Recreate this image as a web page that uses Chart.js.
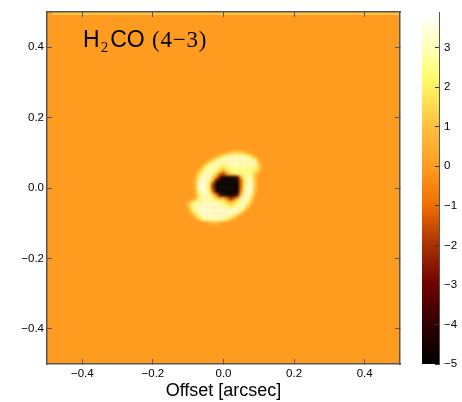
<!DOCTYPE html>
<html lang="en">
<head>
    <meta charset="UTF-8">
    <title>H2CO (4-3)</title>
    <script src="https://cdn.jsdelivr.net/npm/chart.js"></script>
    <style>
        body {
            margin: 0;
            background: #fff;
            width: 462px;
            height: 402px;
            overflow: hidden;
            position: relative;
        }
        canvas {
            position: absolute;
            top: 0;
        }
        #etiqueta {
            position: absolute;
            left: 83px;
            top: 26px;
            font: 23px "Liberation Sans", Arial, sans-serif;
            color: #000;
            white-space: nowrap;
            line-height: 26px;
        }
        #etiqueta sub {
            font: 15px "Liberation Serif", serif;
            vertical-align: -5px;
            line-height: 0;
            margin: 0 2px 0 1px;
        }
        #etiqueta span {
            font: 23px "Liberation Serif", serif;
            margin-left: 1px;
            letter-spacing: 0.8px;
        }
    </style>
</head>
<body>
    <canvas id="mapa" width="462" height="402" style="left:0"></canvas>
    <canvas id="barra" width="62" height="402" style="left:400px"></canvas>
    <div id="etiqueta">H<sub>2</sub>CO <span>(4−3)</span></div>

    <script>
        const xTicks = [-0.4, -0.2, 0, 0.2, 0.4];
        const yTicks = [-0.4, -0.2, 0, 0.2, 0.4];
        const tickLabels = ["−0.4", "−0.2", "0.0", "0.2", "0.4"];
        const barTicks = [-5, -4, -3, -2, -1, 0, 1, 2, 3];
        const barTickLabels = ["−5", "−4", "−3", "−2", "−1", "0", "1", "2", "3"];
        const barRange = [-5, 3.9];

        const cmapValues = [-5, -4, -3, -2, -1, 0, 1, 1.6, 2.3, 3, 3.9];
        const cmapColors = ["#000000", "#300000", "#700000", "#a83000", "#ee6e00", "#ff9c20", "#ffc040", "#ffe050", "#ffff70", "#ffffb8", "#ffffff"];

        const fondoValue = 0;
        const franjaX = [-0.485, 0.5];
        const franjaY = [0.4955, 0.4955];
        const franjaValue = 1.1;

        const gridX = [-0.11, -0.10, -0.09, -0.08, -0.07, -0.06, -0.05, -0.04, -0.03, -0.02, -0.01, 0, 0.01, 0.02, 0.03, 0.04, 0.05, 0.06, 0.07, 0.08, 0.09, 0.10, 0.11, 0.12];
        const gridY = [0.11, 0.10, 0.09, 0.08, 0.07, 0.06, 0.05, 0.04, 0.03, 0.02, 0.01, 0, -0.01, -0.02, -0.03, -0.04, -0.05, -0.06, -0.07, -0.08, -0.09, -0.10, -0.11];
        const intensidad = [
            [0, 0, 0, 0, 0, 0, 0, 0, 0, 0, 0, 0, 0, 0, 0, 0, 0, 0, 0, 0, 0, 0, 0, 0],
            [0, 0, 0, 0, 0, 0, 0, 0, 0, 0, 0, 0, 0.5, 1.2, 1.5, 1.5, 1.5, 1, 0.4, 0, 0, 0, 0, 0],
            [0, 0, 0, 0, 0, 0, 0, 0, 0, 0.5, 1.2, 2.2, 2.8, 2.9, 2.9, 2.9, 2.9, 2.8, 2.4, 1.5, 0.3, 0, 0, 0],
            [0, 0, 0, 0, 0, 0, 0, 0.3, 1.2, 2.4, 3, 3.1, 3.1, 3.1, 3.1, 3.1, 3.1, 3.1, 3, 3, 2.2, 0.4, 0, 0],
            [0, 0, 0, 0, 0, 0, 0.6, 2, 2.8, 3.1, 3, 2.8, 2.8, 3, 3.1, 3.1, 3.1, 3.1, 3.1, 3, 3, 1.2, 0, 0],
            [0, 0, 0, 0, 0, 0.7, 2.3, 3, 3.1, 2.9, 2.4, 2.1, 2.7, 2.8, 2.8, 2.8, 2.8, 2.8, 2.8, 2.8, 2.8, 1.5, 0.2, 0],
            [0, 0, 0, 0, 0.5, 2, 2.9, 3.1, 3, 2.4, 1.6, 0.6, 1.8, 2.4, 2.6, 2.6, 2.6, 2.6, 2.6, 2.5, 2, 1.4, 0.2, 0],
            [0, 0, 0, 0, 1.5, 2.7, 3.2, 3.1, 2.8, 1.5, -0.8, -1.8, 0.3, 1.3, 2, 2.3, 2.4, 2.6, 2.7, 2.4, 1.3, 0.1, 0, 0],
            [0, 0, 0, 0.3, 2.2, 3.1, 3.3, 3, 1.6, -0.5, -3, -4.6, -4.8, -4.6, -4.6, -3, 0.5, 2.4, 3, 2.8, 0.9, 0, 0, 0],
            [0, 0, 0, 0.8, 2.7, 3.4, 3.4, 2.6, 0.5, -3.5, -5, -5, -5, -5, -5, -4.8, -1, 2.2, 3.2, 3, 1.1, 0, 0, 0],
            [0, 0, 0, 0.8, 3, 3.6, 3.3, 2, -2, -5, -5, -5, -5, -5, -5, -5, -1, 2.2, 3.5, 3.1, 1.3, 0, 0, 0],
            [0, 0, 0, 0.8, 3, 3.7, 3.2, 2, -2, -5, -5, -5, -5, -5, -5, -5, -0.8, 2.4, 3.6, 3, 1.2, 0, 0, 0],
            [0, 0, 0, 0.5, 2.6, 3.5, 3.2, 2.4, -1, -4.5, -5, -5, -5, -5, -5, -4.8, -0.3, 2.7, 3.5, 2.9, 0.8, 0, 0, 0],
            [0, 0, 0, 0.3, 2, 3.1, 3.2, 3, 1.5, -0.5, -3.5, -4.5, -5, -5, -5, -3, 1.2, 3, 3.3, 2.6, 0.5, 0, 0, 0],
            [0, 0, 0, 0.5, 2, 2.8, 3.1, 3, 2.6, 1.5, 1, 0.8, -0.7, -2.2, -1.4, 0.8, 2.8, 3.2, 3.2, 1.5, 0, 0, 0, 0],
            [0, 0.5, 1.5, 2.4, 2.8, 3, 3, 3, 3, 3, 2.8, 2.3, 1.3, 0.4, 1.3, 2.3, 3, 3.2, 2.8, 1, 0, 0, 0, 0],
            [0, 1, 2.4, 3, 3.1, 3.2, 3.2, 3.2, 3.2, 3.2, 3, 2.8, 2.3, 1.8, 2.3, 2.8, 3.1, 3, 1.5, 0, 0, 0, 0, 0],
            [0, 0.3, 2, 2.9, 3.2, 3.3, 3.3, 3.3, 3.3, 3.3, 3.3, 3.2, 3.2, 3.2, 3.2, 3.2, 3.1, 2, 0.3, 0, 0, 0, 0, 0],
            [0, 0, 1, 2.4, 3.2, 3.3, 3.3, 3.3, 3.3, 3.3, 3.3, 3.3, 3.3, 3.3, 3.2, 3, 1.5, 0, 0, 0, 0, 0, 0, 0],
            [0, 0, 0.2, 1.2, 2.4, 3.1, 3.2, 3.2, 3.2, 3.2, 3.2, 3.2, 3.1, 2.8, 2, 0.7, 0, 0, 0, 0, 0, 0, 0, 0],
            [0, 0, 0, 0, 1, 2, 2.8, 2.9, 2.9, 2.9, 2.9, 2.7, 2, 1, 0.2, 0, 0, 0, 0, 0, 0, 0, 0, 0],
            [0, 0, 0, 0, 0, 0, 0, 0.4, 0.8, 0.8, 0.4, 0, 0, 0, 0, 0, 0, 0, 0, 0, 0, 0, 0, 0],
            [0, 0, 0, 0, 0, 0, 0, 0, 0, 0, 0, 0, 0, 0, 0, 0, 0, 0, 0, 0, 0, 0, 0, 0]
        ];

        const fuente = { family: "'Liberation Sans', Arial, sans-serif", size: 11.5 };
        const colorBorde = "#555";

        function hexRgb(hex) {
            return [1, 3, 5].map(i => parseInt(hex.slice(i, i + 2), 16));
        }

        function colorDe(v) {
            let i = 0;
            while (i < cmapValues.length - 2 && v > cmapValues[i + 1]) i++;
            const t = Math.min(1, Math.max(0, (v - cmapValues[i]) / (cmapValues[i + 1] - cmapValues[i])));
            const a = hexRgb(cmapColors[i]);
            const b = hexRgb(cmapColors[i + 1]);
            return "rgb(" + a.map((c, k) => Math.round(c + (b[k] - c) * t)).join(",") + ")";
        }

        const celdas = [];
        gridY.forEach((y, r) => {
            gridX.forEach((x, c) => {
                celdas.push({ x: x, y: y, v: intensidad[r][c] });
            });
        });

        function sinPadding(s) {
            s.paddingTop = 0;
            s.paddingBottom = 0;
            s.paddingLeft = 0;
            s.paddingRight = 0;
        }

        // fondo del mapa; despues de las celdas se difumina esa zona
        const pluginMapa = {
            id: "pluginMapa",
            beforeDatasetsDraw(chart) {
                const a = chart.chartArea;
                chart.ctx.fillStyle = colorDe(fondoValue);
                chart.ctx.fillRect(a.left, a.top, a.width, a.height);
            },
            afterDatasetDraw(chart, args) {
                if (args.index !== 0) return;
                const sx = chart.scales.x, sy = chart.scales.y;
                const x0 = sx.getPixelForValue(gridX[0]) - 8;
                const y0 = sy.getPixelForValue(gridY[0]) - 8;
                const w = sx.getPixelForValue(gridX[gridX.length - 1]) + 8 - x0;
                const h = sy.getPixelForValue(gridY[gridY.length - 1]) + 8 - y0;
                const copia = document.createElement("canvas");
                copia.width = w;
                copia.height = h;
                copia.getContext("2d").drawImage(chart.canvas, x0, y0, w, h, 0, 0, w, h);
                chart.ctx.save();
                chart.ctx.beginPath();
                chart.ctx.rect(x0 + 3, y0 + 3, w - 6, h - 6);
                chart.ctx.clip();
                chart.ctx.filter = "blur(1.3px)";
                chart.ctx.drawImage(copia, x0, y0);
                chart.ctx.restore();
            }
        };

        function ejeDentro(valores, etiquetas, extra) {
            return Object.assign({
                type: "linear",
                min: -0.5,
                max: 0.5,
                afterBuildTicks: s => { s.ticks = valores.map(v => ({ value: v })); },
                border: { color: colorBorde, width: 1.5, z: 2 },
                grid: { drawOnChartArea: false, tickLength: -5, z: 2, tickColor: colorBorde, tickWidth: 1 },
                ticks: {
                    display: etiquetas !== null,
                    autoSkip: false,
                    maxRotation: 0,
                    padding: 8,
                    color: "#000",
                    font: fuente,
                    callback: (v, i) => etiquetas ? etiquetas[i] : ""
                }
            }, extra);
        }

        new Chart(document.getElementById("mapa").getContext("2d"), {
            type: "scatter",
            data: {
                datasets: [
                    {
                        data: celdas,
                        pointStyle: "rect",
                        pointRadius: 2.6,
                        borderWidth: 0,
                        pointBorderWidth: 0,
                        pointBackgroundColor: ctx => colorDe(ctx.raw.v)
                    },
                    {
                        type: "line",
                        data: franjaX.map((x, i) => ({ x: x, y: franjaY[i] })),
                        borderColor: colorDe(franjaValue),
                        borderWidth: 3,
                        pointRadius: 0
                    }
                ]
            },
            options: {
                responsive: false,
                animation: false,
                layout: { padding: { left: 0, top: 12, right: 62, bottom: 0 } },
                plugins: { legend: { display: false }, tooltip: { enabled: false } },
                scales: {
                    x: ejeDentro(xTicks, tickLabels, {
                        position: "bottom",
                        afterFit: s => { sinPadding(s); s.height = 38; },
                        title: {
                            display: true,
                            text: "Offset [arcsec]",
                            color: "#000",
                            padding: 0,
                            font: { family: fuente.family, size: 18 }
                        }
                    }),
                    y: ejeDentro(yTicks, tickLabels, {
                        position: "left",
                        afterFit: s => { sinPadding(s); s.width = 47; }
                    }),
                    x2: ejeDentro(xTicks, null, {
                        position: "top",
                        afterFit: s => { sinPadding(s); s.height = 0; }
                    }),
                    y2: ejeDentro(yTicks, null, {
                        position: "right",
                        afterFit: s => { sinPadding(s); s.width = 0; }
                    })
                }
            },
            plugins: [pluginMapa]
        });

        new Chart(document.getElementById("barra").getContext("2d"), {
            type: "bar",
            data: {
                labels: [""],
                datasets: [{
                    data: [barRange],
                    barPercentage: 1,
                    categoryPercentage: 1,
                    backgroundColor: ctx => {
                        const c = ctx.chart;
                        if (!c.chartArea) return "#fff";
                        const g = c.ctx.createLinearGradient(0, c.scales.y.getPixelForValue(-5), 0, c.scales.y.getPixelForValue(3.9));
                        cmapValues.forEach((v, i) => {
                            g.addColorStop((v - barRange[0]) / (barRange[1] - barRange[0]), cmapColors[i]);
                        });
                        return g;
                    }
                }]
            },
            options: {
                responsive: false,
                animation: false,
                layout: { padding: { left: 22, top: 12, right: 0, bottom: 38 } },
                plugins: { legend: { display: false }, tooltip: { enabled: false } },
                scales: {
                    x: { display: false },
                    y: {
                        position: "right",
                        min: barRange[0],
                        max: barRange[1],
                        afterBuildTicks: s => { s.ticks = barTicks.map(v => ({ value: v })); },
                        afterFit: s => { sinPadding(s); s.width = 23; },
                        border: { color: colorBorde, width: 1, z: 2 },
                        grid: { drawOnChartArea: false, tickLength: -4, z: 2, tickColor: "#333" },
                        ticks: {
                            color: "#000",
                            padding: 9,
                            font: fuente,
                            callback: (v, i) => barTickLabels[i]
                        }
                    }
                }
            }
        });
    </script>
</body>
</html>
